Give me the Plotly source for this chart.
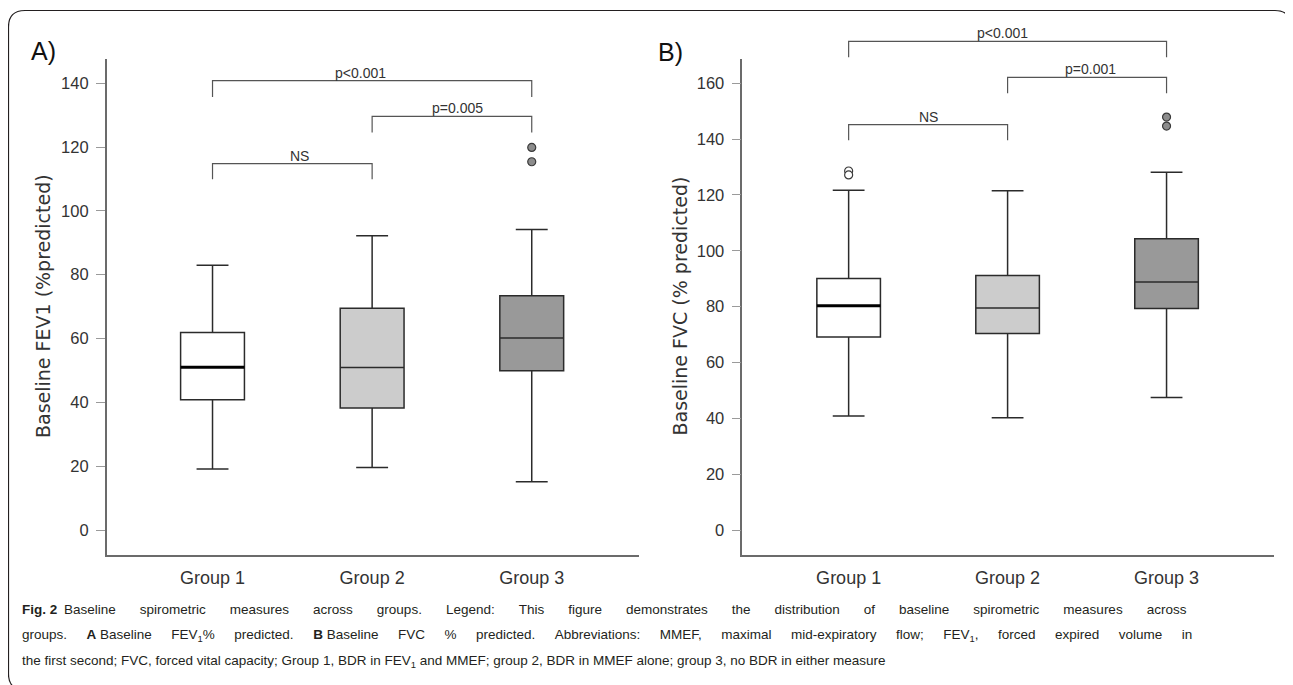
import plotly.graph_objects as go

# The page is shown with the browser's default 8px body margin, so the figure is
# laid out 8px smaller and all reference pixel positions are shifted by OFF.
OFF = 8
W, H = 1293 - OFF, 685 - OFF

groups = ["Group 1", "Group 2", "Group 3"]
group_pos = [1, 2, 3]

# Panel A - Baseline FEV1 (% predicted)
fev1_lowerfence = [19.1, 19.6, 15.1]
fev1_q1 = [40.8, 38.2, 49.9]
fev1_median = [51.0, 50.9, 60.2]
fev1_q3 = [61.9, 69.5, 73.4]
fev1_upperfence = [83.0, 92.2, 94.2]
fev1_outliers = [[], [], [119.9, 115.4]]
fev1_ticks = [0, 20, 40, 60, 80, 100, 120, 140]

fev1_bracket_from = [1, 2, 1]
fev1_bracket_to = [3, 3, 2]
fev1_bracket_top = [140.8, 129.6, 114.8]
fev1_bracket_foot = [135.7, 124.6, 109.9]
fev1_bracket_text = ["p<0.001", "p=0.005", "NS"]
fev1_bracket_text_x = [1.93, 2.535, 1.546]

# Panel B - Baseline FVC (% predicted)
fvc_lowerfence = [40.8, 40.2, 47.5]
fvc_q1 = [69.1, 70.4, 79.3]
fvc_median = [80.3, 79.5, 88.8]
fvc_q3 = [90.1, 91.2, 104.3]
fvc_upperfence = [121.7, 121.5, 128.1]
fvc_outliers = [[128.6, 127.2], [], [147.9, 144.7]]
fvc_ticks = [0, 20, 40, 60, 80, 100, 120, 140, 160]

fvc_bracket_from = [1, 2, 1]
fvc_bracket_to = [3, 3, 2]
fvc_bracket_top = [175.0, 162.1, 145.2]
fvc_bracket_foot = [169.3, 156.4, 139.6]
fvc_bracket_text = ["p<0.001", "p=0.001", "NS"]
fvc_bracket_text_x = [1.97, 2.52, 1.5]

fill_colors = ["#ffffff", "#cccccc", "#999999"]
outlier_fill = ["#ffffff", "#ffffff", "#8c8c8c"]

TICKF = "Liberation Sans, Arial, sans-serif"
GOTHIC = "DejaVu Sans, sans-serif"
CAPTION = "Liberation Sans, Arial, sans-serif"
CAP_SIZE = 13.5
BOX_W = 0.4
LINE_C = "#2b2b2b"
AXIS_C = "#6b6b6b"


def fx(x):
    return (x - OFF) / W


def fy(y):
    return 1 - (y - OFF) / H


ydom = [fy(555), fy(59.3)]
ytop_ext = 0.998

panels = [
    dict(xa="x", ya="y", yb="y3", xdom=[fx(106.7), fx(639)], xr=[0.337, 3.672], yr=[-7.83, 147.5],
         lo=fev1_lowerfence, q1=fev1_q1, med=fev1_median, q3=fev1_q3, hi=fev1_upperfence,
         out=fev1_outliers, ticks=fev1_ticks,
         bf=fev1_bracket_from, bt=fev1_bracket_to, btop=fev1_bracket_top, bfoot=fev1_bracket_foot,
         btext=fev1_bracket_text, btx=fev1_bracket_text_x,
         title="Baseline FEV1 (%predicted)", title_x=43, label="A)", label_xy=(43.5, 51)),
    dict(xa="x2", ya="y2", yb="y4", xdom=[fx(742.3), fx(1274)], xr=[0.331, 3.676], yr=[-8.95, 168.6],
         lo=fvc_lowerfence, q1=fvc_q1, med=fvc_median, q3=fvc_q3, hi=fvc_upperfence,
         out=fvc_outliers, ticks=fvc_ticks,
         bf=fvc_bracket_from, bt=fvc_bracket_to, btop=fvc_bracket_top, bfoot=fvc_bracket_foot,
         btext=fvc_bracket_text, btx=fvc_bracket_text_x,
         title="Baseline FVC (% predicted)", title_x=679.5, label="B)", label_xy=(670.5, 52)),
]

fig = go.Figure()
annotations = []
layout_axes = {}

for p in panels:
    for i, g in enumerate(group_pos):
        fig.add_trace(go.Box(
            x=[g], q1=[p["q1"][i]], median=[p["med"][i]], q3=[p["q3"][i]],
            lowerfence=[p["lo"][i]], upperfence=[p["hi"][i]],
            width=BOX_W, whiskerwidth=0.5, fillcolor=fill_colors[i],
            line=dict(color=LINE_C, width=1.5), boxpoints=False,
            xaxis=p["xa"], yaxis=p["ya"], hoverinfo="skip"))
        if p["out"][i]:
            fig.add_trace(go.Scatter(
                x=[g] * len(p["out"][i]), y=p["out"][i], mode="markers",
                marker=dict(size=8, color=outlier_fill[i], line=dict(color="#3a3a3a", width=1.2)),
                xaxis=p["xa"], yaxis=p["ya"], hoverinfo="skip"))
    # thicker median for group 1
    fig.add_trace(go.Scatter(
        x=[group_pos[0] - BOX_W / 2, group_pos[0] + BOX_W / 2], y=[p["med"][0], p["med"][0]],
        mode="lines", line=dict(color="#000000", width=3),
        xaxis=p["xa"], yaxis=p["ya"], hoverinfo="skip"))
    # significance brackets on an extended axis with the same scale
    for a, b, top, foot, txt, tx in zip(p["bf"], p["bt"], p["btop"], p["bfoot"], p["btext"], p["btx"]):
        fig.add_trace(go.Scatter(
            x=[a, a, b, b], y=[foot, top, top, foot], mode="lines",
            line=dict(color="#555555", width=1.2),
            xaxis=p["xa"], yaxis=p["yb"], hoverinfo="skip"))
        annotations.append(dict(
            x=tx, y=top, xref=p["xa"], yref=p["yb"], text=txt, showarrow=False,
            xanchor="center", yanchor="bottom", yshift=-2,
            font=dict(family=TICKF, size=14, color="#333333")))

    r0, r1 = p["yr"]
    ext_top = r0 + (r1 - r0) * (ytop_ext - ydom[0]) / (ydom[1] - ydom[0])
    xk = "xaxis" + p["xa"][1:]
    yk = "yaxis" + p["ya"][1:]
    ybk = "yaxis" + p["yb"][1:]
    layout_axes[xk] = dict(
        domain=p["xdom"], range=p["xr"], anchor=p["ya"],
        tickmode="array", tickvals=group_pos, ticktext=groups,
        showline=True, linecolor=AXIS_C, linewidth=1.5, ticks="",
        showgrid=False, zeroline=False, ticklabelstandoff=6,
        tickfont=dict(family=TICKF, size=18, color="#333333"))
    layout_axes[yk] = dict(
        domain=ydom, range=p["yr"], anchor=p["xa"],
        tickmode="array", tickvals=p["ticks"],
        ticks="outside", ticklen=9, tickwidth=1, tickcolor="#9a9a9a",
        showline=True, linecolor=AXIS_C, linewidth=1.5,
        showgrid=False, zeroline=False, ticklabelstandoff=4,
        tickfont=dict(family=TICKF, size=16.5, color="#333333"))
    layout_axes[ybk] = dict(
        domain=[ydom[0], ytop_ext], range=[r0, ext_top], anchor=p["xa"],
        visible=False, showgrid=False, zeroline=False)

    annotations.append(dict(
        x=fx(p["title_x"]), y=fy(306), xref="paper", yref="paper",
        text=p["title"], textangle=-90, showarrow=False,
        xanchor="center", yanchor="middle",
        font=dict(family=GOTHIC, size=19, color="#333333")))
    annotations.append(dict(
        x=fx(p["label_xy"][0]), y=fy(p["label_xy"][1]), xref="paper", yref="paper",
        text=p["label"], showarrow=False, xanchor="center", yanchor="middle",
        font=dict(family=CAPTION, size=25, color="#111111")))

# Caption (the first two lines are justified in the reference, so their word gaps are widened)
caption_lines = [
    "<b>Fig.\u00a02</b>\u2002Baseline spirometric measures across groups. Legend: This figure demonstrates the distribution of baseline spirometric measures across",
    "groups. <b>A</b>\u00a0Baseline FEV<sub>1</sub>% predicted. <b>B</b>\u00a0Baseline FVC % predicted. Abbreviations: MMEF, maximal mid-expiratory flow; FEV<sub>1</sub>, forced expired volume in",
    "the first second; FVC, forced vital capacity; Group 1, BDR in FEV<sub>1</sub> and MMEF; group 2, BDR in MMEF alone; group 3, no BDR in either measure",
]
caption_gap = [" \u2003\u2002", " \u2003\u2006", " "]
caption_y = [609, 635, 661]
for line, gap, yy in zip(caption_lines, caption_gap, caption_y):
    text = gap.join(line.split(" ")).replace("\u00a0", " ")
    annotations.append(dict(
        x=fx(20), y=fy(yy), xref="paper", yref="paper", text=text,
        showarrow=False, xanchor="left", yanchor="middle", align="left",
        font=dict(family=CAPTION, size=CAP_SIZE, color="#231f20")))


def P(x, y):
    return f"{fx(x):.5f},{fy(y):.5f}"


border = (f"M{P(25, 690)} Q{P(8.5, 690)} {P(8.5, 674)} L{P(8.5, 27)} "
          f"Q{P(8.5, 10.5)} {P(25, 10.5)} L{P(1275, 10.5)} Q{P(1291, 10.5)} {P(1291, 27)} L{P(1291, 40)}")

fig.update_layout(
    width=W, height=H,
    margin=dict(l=0, r=0, t=0, b=0),
    paper_bgcolor="white", plot_bgcolor="rgba(0,0,0,0)",
    showlegend=False,
    annotations=annotations,
    shapes=[dict(type="path", path=border, xref="paper", yref="paper",
                 line=dict(color="#231f20", width=1.2))],
    **layout_axes,
)

fig.write_html("out.html")
